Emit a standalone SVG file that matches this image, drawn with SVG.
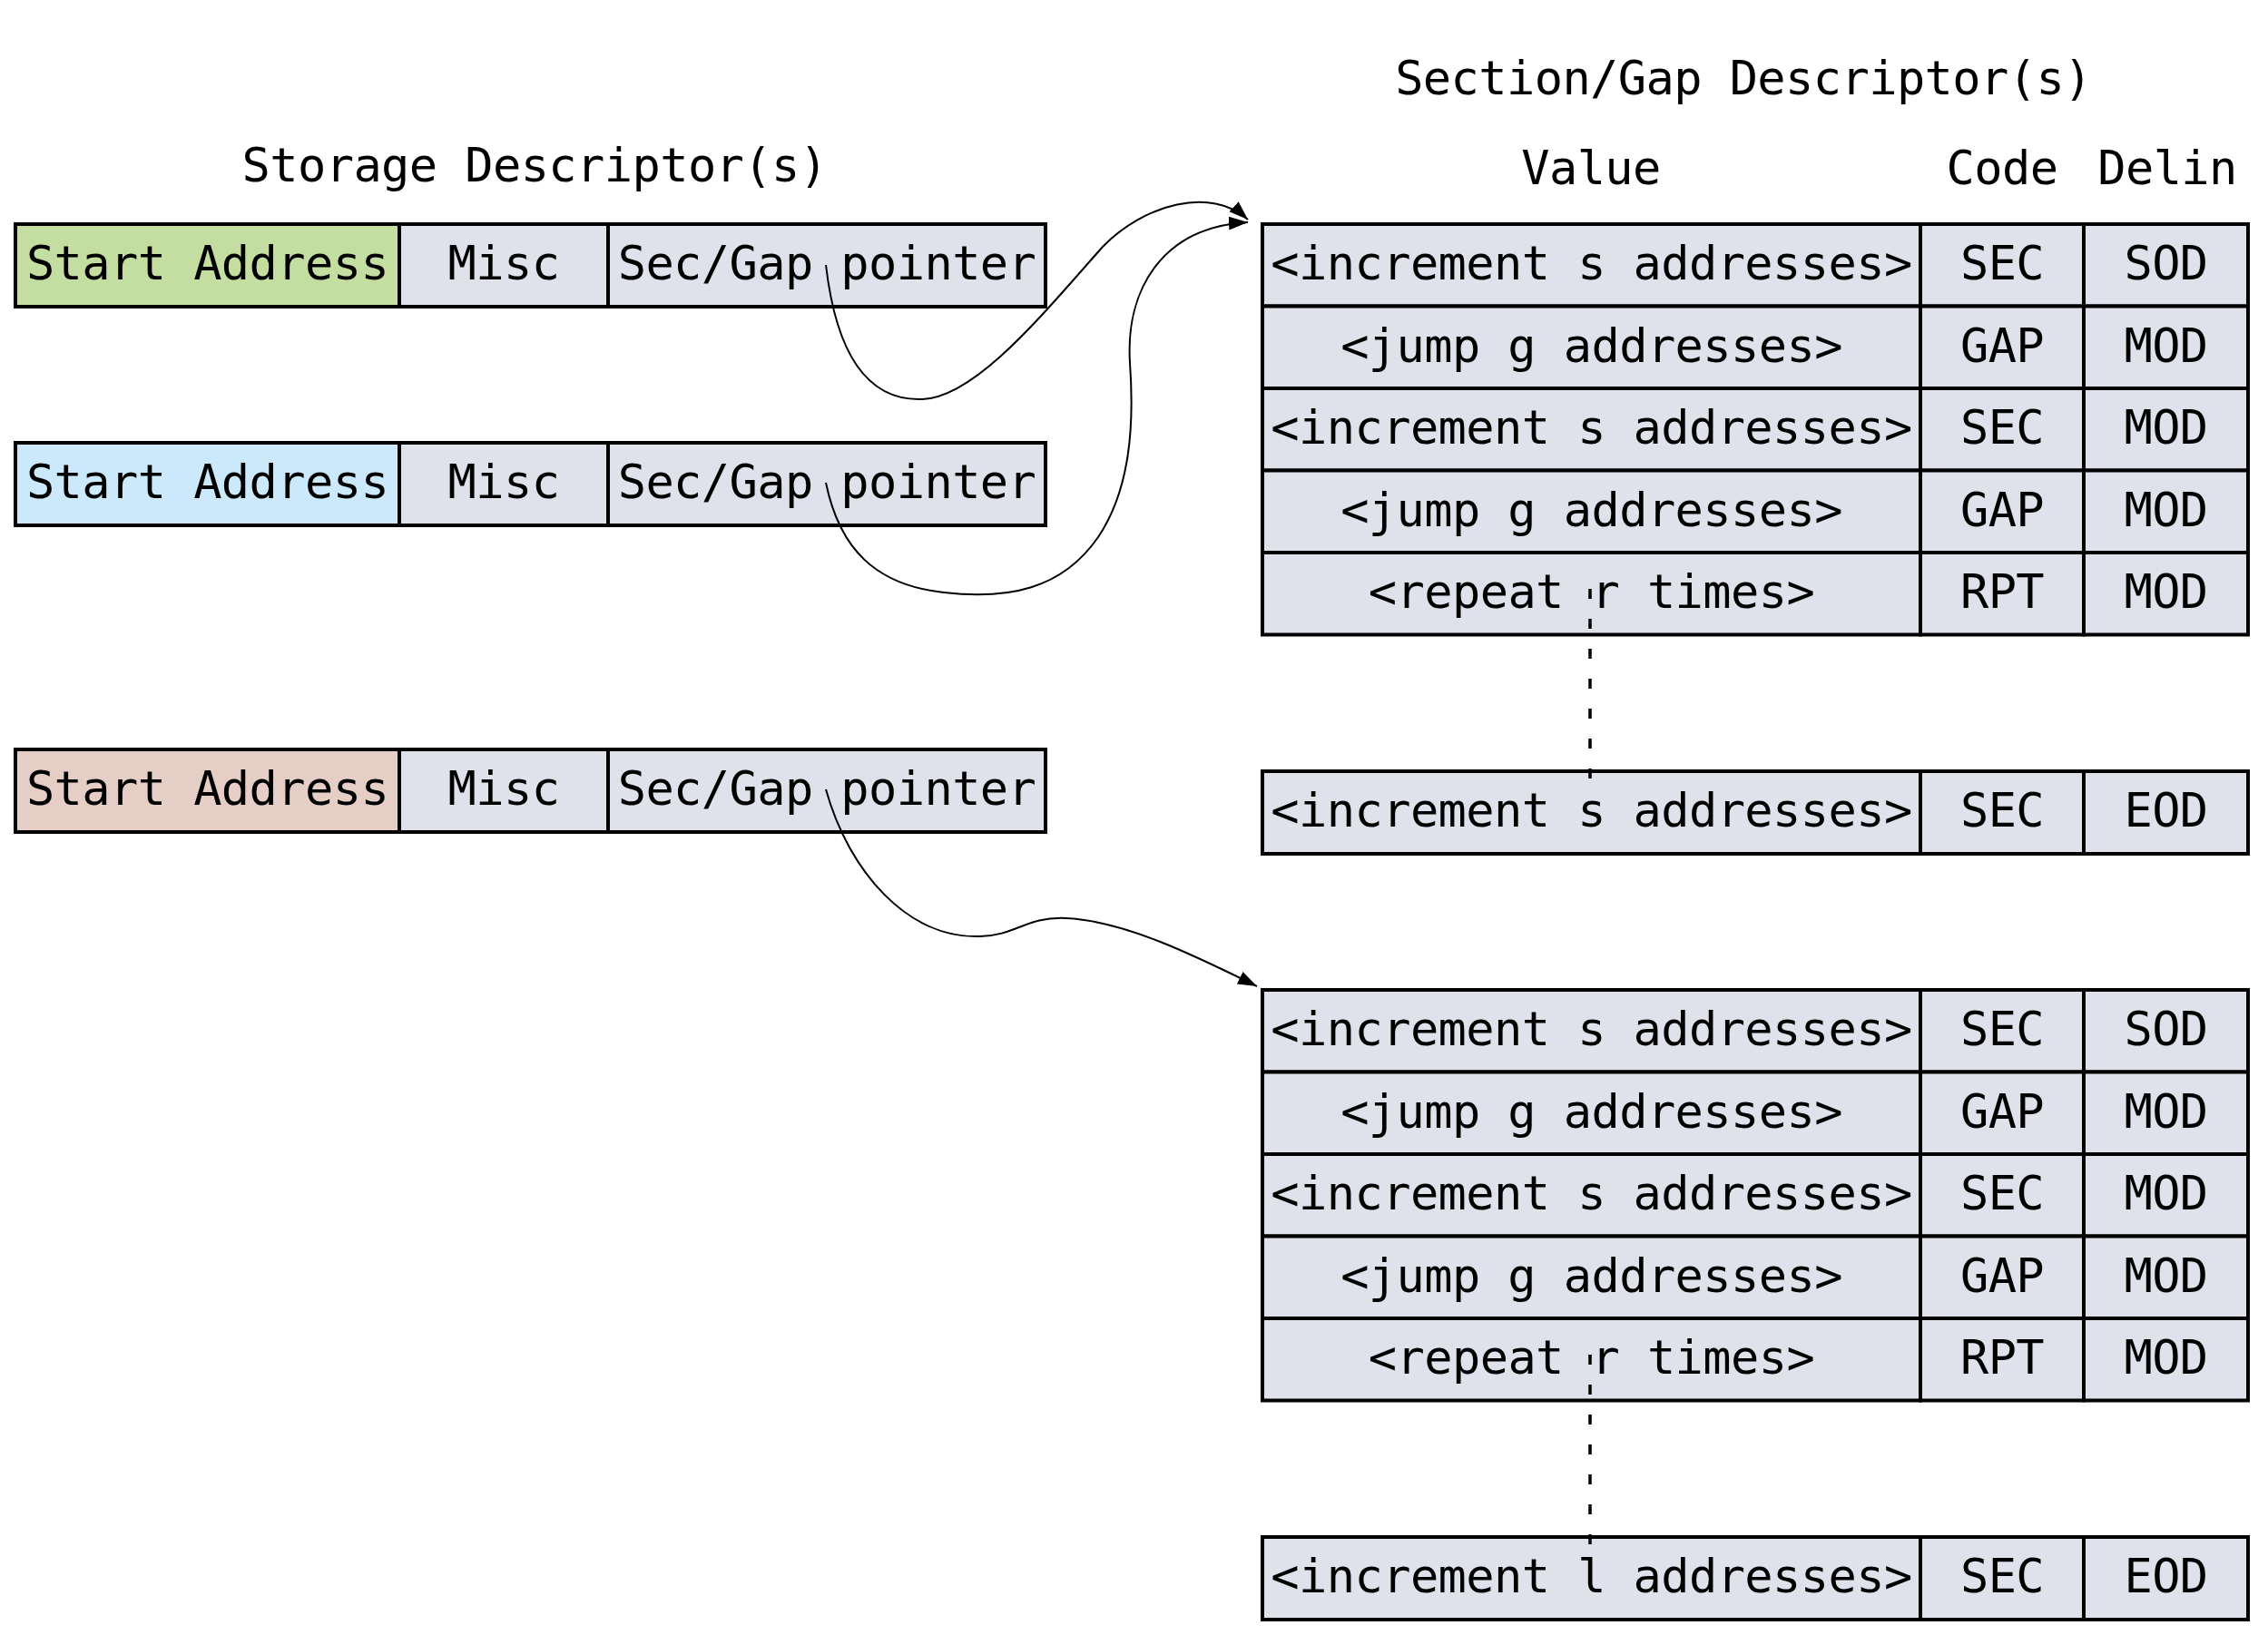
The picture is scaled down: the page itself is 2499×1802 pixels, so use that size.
<svg xmlns="http://www.w3.org/2000/svg" width="2499" height="1802" viewBox="0 0 2499 1802">
<style>
  text { font-family: "DejaVu Sans Mono", "Liberation Mono", monospace; font-size: 52px; letter-spacing: -0.6px; fill: #000; text-anchor: middle; }
  .cell { fill: #dfe1eb; stroke: #000; stroke-width: 4; }
  .green { fill: #c4dea2; }
  .blue { fill: #cce8fb; }
  .pink { fill: #e4cec6; }
  .curve { fill: none; stroke: #000; stroke-width: 2; }
  .dots { fill: none; stroke: #000; stroke-width: 3.5; stroke-dasharray: 11 22; }
</style>
<defs>
  <marker id="arrow" markerUnits="userSpaceOnUse" markerWidth="22" markerHeight="16" refX="21" refY="7.5" orient="auto">
    <path d="M0,0 L21,7.5 L0,15 z" fill="#000"/>
  </marker>
</defs>
<rect width="2499" height="1802" fill="#fff"/>

<g id="headers">
  <text x="589" y="200">Storage Descriptor(s)</text>
  <text x="1921" y="104">Section/Gap Descriptor(s)</text>
  <text x="1753" y="203">Value</text>
  <text x="2206" y="203">Code</text>
  <text x="2388" y="203">Delin</text>
</g>

<g id="storage1">
  <rect class="cell green" x="17" y="247" width="423" height="91"/>
  <rect class="cell" x="440" y="247" width="230" height="91"/>
  <rect class="cell" x="670" y="247" width="482" height="91"/>
  <text x="228.5" y="308">Start Address</text>
  <text x="555" y="308">Misc</text>
  <text x="911" y="308">Sec/Gap pointer</text>
</g>
<g id="storage2">
  <rect class="cell blue" x="17" y="488" width="423" height="91"/>
  <rect class="cell" x="440" y="488" width="230" height="91"/>
  <rect class="cell" x="670" y="488" width="482" height="91"/>
  <text x="228.5" y="549">Start Address</text>
  <text x="555" y="549">Misc</text>
  <text x="911" y="549">Sec/Gap pointer</text>
</g>
<g id="storage3">
  <rect class="cell pink" x="17" y="826" width="423" height="91"/>
  <rect class="cell" x="440" y="826" width="230" height="91"/>
  <rect class="cell" x="670" y="826" width="482" height="91"/>
  <text x="228.5" y="887">Start Address</text>
  <text x="555" y="887">Misc</text>
  <text x="911" y="887">Sec/Gap pointer</text>
</g>

<g id="sg1">
  <g id="sg1-row1">
    <rect class="cell" x="1391" y="247" width="725" height="90.5"/>
    <rect class="cell" x="2116" y="247" width="180" height="90.5"/>
    <rect class="cell" x="2296" y="247" width="181" height="90.5"/>
    <text x="1753.5" y="308">&lt;increment s addresses&gt;</text>
    <text x="2206" y="308">SEC</text>
    <text x="2386.5" y="308">SOD</text>
  </g>
  <g id="sg1-row2">
    <rect class="cell" x="1391" y="337.5" width="725" height="90.5"/>
    <rect class="cell" x="2116" y="337.5" width="180" height="90.5"/>
    <rect class="cell" x="2296" y="337.5" width="181" height="90.5"/>
    <text x="1753.5" y="398.5">&lt;jump g addresses&gt;</text>
    <text x="2206" y="398.5">GAP</text>
    <text x="2386.5" y="398.5">MOD</text>
  </g>
  <g id="sg1-row3">
    <rect class="cell" x="1391" y="428" width="725" height="90.5"/>
    <rect class="cell" x="2116" y="428" width="180" height="90.5"/>
    <rect class="cell" x="2296" y="428" width="181" height="90.5"/>
    <text x="1753.5" y="489">&lt;increment s addresses&gt;</text>
    <text x="2206" y="489">SEC</text>
    <text x="2386.5" y="489">MOD</text>
  </g>
  <g id="sg1-row4">
    <rect class="cell" x="1391" y="518.5" width="725" height="90.5"/>
    <rect class="cell" x="2116" y="518.5" width="180" height="90.5"/>
    <rect class="cell" x="2296" y="518.5" width="181" height="90.5"/>
    <text x="1753.5" y="579.5">&lt;jump g addresses&gt;</text>
    <text x="2206" y="579.5">GAP</text>
    <text x="2386.5" y="579.5">MOD</text>
  </g>
  <g id="sg1-row5">
    <rect class="cell" x="1391" y="609" width="725" height="90.5"/>
    <rect class="cell" x="2116" y="609" width="180" height="90.5"/>
    <rect class="cell" x="2296" y="609" width="181" height="90.5"/>
    <text x="1753.5" y="670">&lt;repeat r times&gt;</text>
    <text x="2206" y="670">RPT</text>
    <text x="2386.5" y="670">MOD</text>
  </g>
  <g id="sg1-last">
    <rect class="cell" x="1391" y="850" width="725" height="91"/>
    <rect class="cell" x="2116" y="850" width="180" height="91"/>
    <rect class="cell" x="2296" y="850" width="181" height="91"/>
    <text x="1753.5" y="911">&lt;increment s addresses&gt;</text>
    <text x="2206" y="911">SEC</text>
    <text x="2386.5" y="911">EOD</text>
  </g>
</g>

<g id="sg2">
  <g id="sg2-row1">
    <rect class="cell" x="1391" y="1091" width="725" height="90.5"/>
    <rect class="cell" x="2116" y="1091" width="180" height="90.5"/>
    <rect class="cell" x="2296" y="1091" width="181" height="90.5"/>
    <text x="1753.5" y="1152">&lt;increment s addresses&gt;</text>
    <text x="2206" y="1152">SEC</text>
    <text x="2386.5" y="1152">SOD</text>
  </g>
  <g id="sg2-row2">
    <rect class="cell" x="1391" y="1181.5" width="725" height="90.5"/>
    <rect class="cell" x="2116" y="1181.5" width="180" height="90.5"/>
    <rect class="cell" x="2296" y="1181.5" width="181" height="90.5"/>
    <text x="1753.5" y="1242.5">&lt;jump g addresses&gt;</text>
    <text x="2206" y="1242.5">GAP</text>
    <text x="2386.5" y="1242.5">MOD</text>
  </g>
  <g id="sg2-row3">
    <rect class="cell" x="1391" y="1272" width="725" height="90.5"/>
    <rect class="cell" x="2116" y="1272" width="180" height="90.5"/>
    <rect class="cell" x="2296" y="1272" width="181" height="90.5"/>
    <text x="1753.5" y="1333">&lt;increment s addresses&gt;</text>
    <text x="2206" y="1333">SEC</text>
    <text x="2386.5" y="1333">MOD</text>
  </g>
  <g id="sg2-row4">
    <rect class="cell" x="1391" y="1362.5" width="725" height="90.5"/>
    <rect class="cell" x="2116" y="1362.5" width="180" height="90.5"/>
    <rect class="cell" x="2296" y="1362.5" width="181" height="90.5"/>
    <text x="1753.5" y="1423.5">&lt;jump g addresses&gt;</text>
    <text x="2206" y="1423.5">GAP</text>
    <text x="2386.5" y="1423.5">MOD</text>
  </g>
  <g id="sg2-row5">
    <rect class="cell" x="1391" y="1453" width="725" height="90.5"/>
    <rect class="cell" x="2116" y="1453" width="180" height="90.5"/>
    <rect class="cell" x="2296" y="1453" width="181" height="90.5"/>
    <text x="1753.5" y="1514">&lt;repeat r times&gt;</text>
    <text x="2206" y="1514">RPT</text>
    <text x="2386.5" y="1514">MOD</text>
  </g>
  <g id="sg2-last">
    <rect class="cell" x="1391" y="1694" width="725" height="91"/>
    <rect class="cell" x="2116" y="1694" width="180" height="91"/>
    <rect class="cell" x="2296" y="1694" width="181" height="91"/>
    <text x="1753.5" y="1755">&lt;increment l addresses&gt;</text>
    <text x="2206" y="1755">SEC</text>
    <text x="2386.5" y="1755">EOD</text>
  </g>
</g>

<g id="connectors">
  <path class="curve" marker-end="url(#arrow)" d="M910,292 C922,395 958,442 1016,440 C1075,438 1150,345 1215,272 C1260,225 1335,205 1375,242"/>
  <path class="curve" marker-end="url(#arrow)" d="M910,532 C925,605 965,645 1040,653 C1110,661 1170,650 1210,592 C1245,540 1250,470 1245,400 C1240,320 1280,250 1375,245"/>
  <path class="curve" marker-end="url(#arrow)" d="M910,870 C935,960 1000,1035 1080,1032 C1120,1031 1130,1010 1175,1012 C1240,1015 1320,1055 1385,1087"/>
  <line class="dots" x1="1752" y1="649" x2="1752" y2="862"/>
  <line class="dots" x1="1752" y1="1493" x2="1752" y2="1706"/>
</g>
</svg>
